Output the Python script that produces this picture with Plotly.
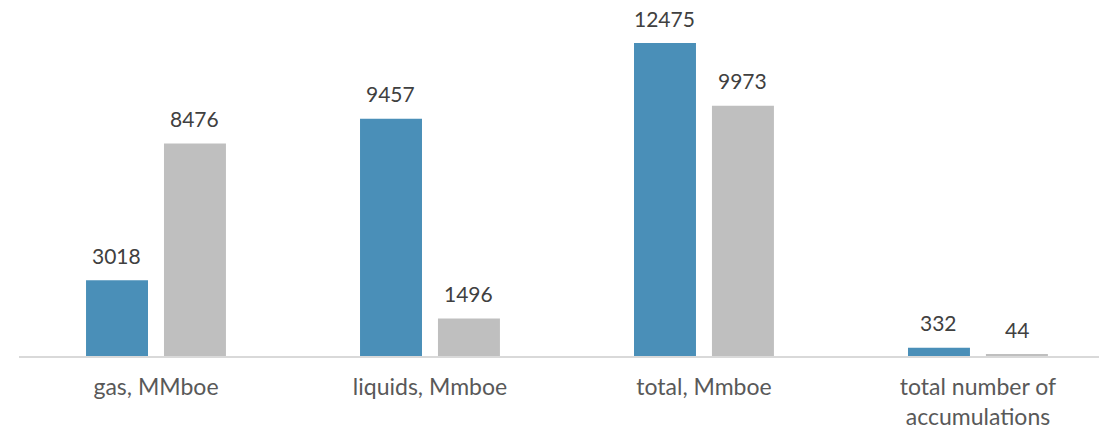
import plotly.graph_objects as go

categories = ["gas, MMboe", "liquids, Mmboe", "total, Mmboe", "total number of<br>accumulations"]
series_a = [3018, 9457, 12475, 332]
series_b = [8476, 1496, 9973, 44]
series_names = ["Series 1", "Series 2"]
colors = ["#4A8FB8", "#BFBFBF"]

fig = go.Figure()
for name, vals, col in zip(series_names, [series_a, series_b], colors):
    fig.add_trace(go.Bar(x=categories, y=vals, name=name, marker_color=col,
                         marker_line_width=0))

font_family = "Lato, 'Open Sans', sans-serif"
annotations = []
for shift, vals in zip([-39, 39], [series_a, series_b]):
    for c, v in zip(categories, vals):
        annotations.append(dict(x=c, y=v, text=str(v), showarrow=False,
                                xshift=shift, yshift=25, yanchor="middle", borderpad=0,
                                font=dict(size=21, color="#404040", family=font_family)))

fig.update_layout(
    width=1099, height=421,
    margin=dict(l=11, r=0, t=0, b=73, autoexpand=False),
    paper_bgcolor="white", plot_bgcolor="white",
    barmode="group", bargap=0.431, bargroupgap=0.205,
    showlegend=False,
    annotations=annotations,
    font=dict(family=font_family),
)
fig.update_xaxes(range=[-0.5, 3.471], showline=True, linecolor="#D9D9D9", linewidth=2,
                 automargin=False,
                 showgrid=False, ticks="outside", ticklen=9, tickcolor="rgba(0,0,0,0)",
                 tickfont=dict(size=23, color="#595959", family=font_family))
fig.update_yaxes(range=[0, 13875], visible=False, showgrid=False, zeroline=False,
                 automargin=False)

fig.write_html("out.html")
